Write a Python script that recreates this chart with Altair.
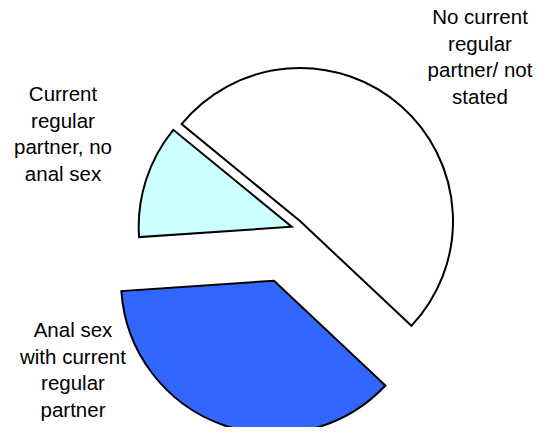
import math
import altair as alt
import pandas as pd

# ---- data ----
categories = [
    "No current regular partner/ not stated",
    "Anal sex with current regular partner",
    "Current regular partner, no anal sex",
]
shares = [51.1, 36.9, 12.0]
label_lines = [
    "No current\nregular\npartner/ not\nstated",
    "Anal sex\nwith current\nregular\npartner",
    "Current\nregular\npartner, no\nanal sex",
]
colors = ["#FFFFFF", "#3366FF", "#CCFFFF"]

df = pd.DataFrame({
    "category": categories,
    "share": shares,
    "order": list(range(len(categories))),
    "label": label_lines,
})
total = sum(shares)

# ---- style / layout ----
W, H = 530, 419
start = math.radians(309.3)
R = 153
explode = {  # per-slice displacement of the apex (pixels)
    categories[0]: (27, 3.5),
    categories[1]: (1, 63.2),
    categories[2]: (18.7, 9.2),
}
label_pos = {
    categories[0]: (472, 16),
    categories[1]: (65, 329),
    categories[2]: (55, 93),
}
FONT = "Liberation Sans"

base = (
    alt.Chart(df)
    .transform_window(
        cum_end="sum(share)", sort=[alt.SortField("order")], frame=[None, 0]
    )
    .transform_calculate(cum_start="datum.cum_end - datum.share")
)

theta_scale = alt.Scale(domain=[0, total], range=[start, start + 2 * math.pi])
color_scale = alt.Scale(domain=categories, range=colors)

layers = []
for cat in categories:
    dx, dy = explode[cat]
    arc = (
        base.transform_filter(alt.datum.category == cat)
        .mark_arc(
            radius=R,
            stroke="black",
            strokeWidth=2,
            strokeJoin="miter",
            xOffset=dx,
            yOffset=dy,
        )
        .encode(
            theta=alt.Theta("cum_start:Q", scale=theta_scale),
            theta2="cum_end:Q",
            fill=alt.Fill("category:N", scale=color_scale, legend=None),
        )
    )
    layers.append(arc)

for cat in categories:
    lx, ly = label_pos[cat]
    txt = (
        alt.Chart(df)
        .transform_filter(alt.datum.category == cat)
        .mark_text(
            x=lx,
            y=ly,
            align="center",
            baseline="alphabetic",
            lineBreak="\n",
            lineHeight=26.7,
            font=FONT,
            fontSize=20.5,
            color="black",
        )
        .encode(text="label:N")
    )
    layers.append(txt)

chart = (
    alt.layer(*layers)
    .properties(width=W, height=H, padding=0, autosize=alt.AutoSizeParams(type="none"))
    .configure_view(stroke=None)
    .configure(background="white")
)

chart.save("out.html", embed_options={"renderer": "svg", "actions": False})
